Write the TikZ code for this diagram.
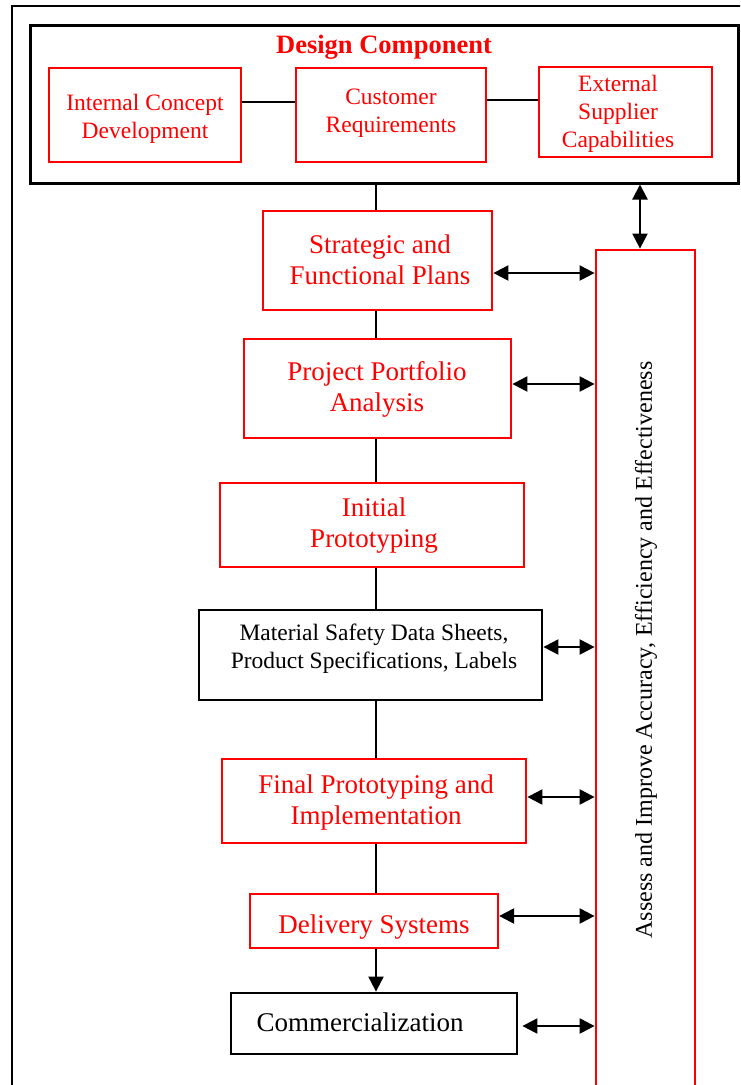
\documentclass[tikz,border=0pt]{standalone}
\usepackage{fontspec}
\setmainfont{Liberation Serif}
\usetikzlibrary{arrows.meta,fit}
\definecolor{flowred}{RGB}{255,0,0}
\begin{document}
\begin{tikzpicture}[x=1pt,y=-1pt,
  frame/.style={draw=black, line width=2.2pt, inner sep=0pt},
  redbox/.style={draw=flowred, line width=2.8pt, inner sep=0pt},
  blackbox/.style={draw=black, line width=2.8pt, inner sep=0pt},
  redtxt/.style={text=flowred, align=center, inner sep=0pt},
  blacktxt/.style={text=black, align=center, inner sep=0pt},
  big/.style={font=\fontsize{27}{31}\selectfont},
  small/.style={font=\fontsize{23.5}{28}\selectfont},
  link/.style={draw=black, line width=2pt},
  twoway/.style={draw=black, line width=2.2pt, {Triangle[length=15pt,width=15pt]}-{Triangle[length=15pt,width=15pt]}},
  oneway/.style={draw=black, line width=2pt, -{Triangle[length=15pt,width=15pt]}}
]
\useasboundingbox (0,0) rectangle (740,1085);
\clip (0,0) rectangle (740,1085);
\fill[white] (0,0) rectangle (740,1085);

% outer frame, running off the page to the right and bottom
\coordinate (o1) at (12,6);
\coordinate (o2) at (770,1110);
\node[frame, fit=(o1)(o2)] (outer) {};

% design component group
\coordinate (d1) at (30,25);
\coordinate (d2) at (738,183);
\node[frame, line width=3pt, fit=(d1)(d2)] (dc) {};
\node[redtxt, font=\fontsize{26.5}{30}\selectfont\bfseries] (dctitle) at (384,47) {Design Component};

\coordinate (i1) at (49,68);   \coordinate (i2) at (241,162);
\node[redbox, fit=(i1)(i2)] (icd) {};
\node[redtxt, small] (icdtxt) at (145,119) {Internal Concept\\Development};

\coordinate (c1) at (296,68);  \coordinate (c2) at (486,162);
\node[redbox, fit=(c1)(c2)] (cr) {};
\node[redtxt, small] (crtxt) at (391,113) {Customer\\Requirements};

\coordinate (e1) at (539,67);  \coordinate (e2) at (712,157);
\node[redbox, fit=(e1)(e2)] (esc) {};
\node[redtxt, small] (esctxt) at (618,114) {External\\Supplier\\Capabilities};

\draw[link, line width=2.6pt] (icd.east |- 0,102) -- (cr.west |- 0,102);
\draw[link, line width=2.6pt] (cr.east |- 0,100) -- (esc.west |- 0,100);

% main flow
\coordinate (s1) at (263,211); \coordinate (s2) at (492,310);
\node[redbox, fit=(s1)(s2)] (sfp) {};
\node[redtxt, big] (sfptxt) at (380,260) {Strategic and\\Functional Plans};

\coordinate (p1) at (244,339); \coordinate (p2) at (511,438);
\node[redbox, fit=(p1)(p2)] (ppa) {};
\node[redtxt, big] (ppatxt) at (377,389) {Project Portfolio\\Analysis};

\coordinate (n1) at (220,483); \coordinate (n2) at (524,567);
\node[redbox, fit=(n1)(n2)] (ip) {};
\node[redtxt, big] (iptxt) at (374,526) {Initial\\Prototyping};

\coordinate (m1) at (199,610); \coordinate (m2) at (542,700);
\node[blackbox, fit=(m1)(m2)] (msds) {};
\node[blacktxt, small] (msdstxt) at (374,649) {Material Safety Data Sheets,\\Product Specifications, Labels};

\coordinate (f1) at (222,759); \coordinate (f2) at (526,843);
\node[redbox, fit=(f1)(f2)] (fpi) {};
\node[redtxt, big] (fpitxt) at (376,802) {Final Prototyping and\\Implementation};

\coordinate (v1) at (250,894); \coordinate (v2) at (498,948);
\node[redbox, line width=2.2pt, fit=(v1)(v2)] (ds) {};
\node[redtxt, big] (dstxt) at (374,927) {Delivery Systems};

\coordinate (k1) at (231,993); \coordinate (k2) at (517,1054);
\node[blackbox, fit=(k1)(k2)] (com) {};
\node[blacktxt, big] (comtxt) at (360,1022) {Commercialization};

% assessment column
\coordinate (a1) at (596,250); \coordinate (a2) at (695,1110);
\node[redbox, fit=(a1)(a2)] (assess) {};
\node[blacktxt, font=\fontsize{24}{28}\selectfont, rotate=90] (assesstxt) at (646,650)
  {Assess and Improve Accuracy, Efficiency and Effectiveness};

% spine connecting the flow
\coordinate (spine) at (376,0);
\draw[link] (dc.south -| spine) -- (sfp.north -| spine);
\draw[link] (sfp.south -| spine) -- (ppa.north -| spine);
\draw[link] (ppa.south -| spine) -- (ip.north -| spine);
\draw[link] (ip.south -| spine) -- (msds.north -| spine);
\draw[link] (msds.south -| spine) -- (fpi.north -| spine);
\draw[link] (fpi.south -| spine) -- (ds.north -| spine);
\draw[oneway] (ds.south -| spine) -- (com.north -| spine);

% two-way links to the assessment column
\coordinate (tap) at (640,0);
\draw[twoway] (dc.south -| tap) -- (assess.north -| tap);
\draw[twoway] (sfp.east |- 0,273) -- (assess.west |- 0,273);
\draw[twoway] (ppa.east |- 0,384) -- (assess.west |- 0,384);
\draw[twoway] (msds.east |- 0,647) -- (assess.west |- 0,647);
\draw[twoway] (fpi.east |- 0,797) -- (assess.west |- 0,797);
\draw[twoway] (ds.east |- 0,916) -- (assess.west |- 0,916);
\draw[twoway, shorten <=4pt] (com.east |- 0,1026) -- (assess.west |- 0,1026);
\end{tikzpicture}
\end{document}
